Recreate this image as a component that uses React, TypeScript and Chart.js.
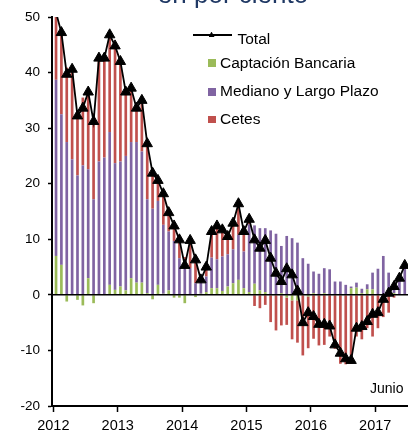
import React, { useEffect, useRef } from 'react';
import { Chart, registerables } from 'chart.js';

Chart.register(...registerables);

// Monthly data, Jan 2012 (index 0) to Jun 2017 (index 65)
const YEARS = ['2012', '2013', '2014', '2015', '2016', '2017'];
const LAST_MONTH_LABEL = 'Junio';

const TOTAL = [
  50.8, 47.2, 39.7, 40.6, 32.2, 33.6, 36.5, 31.2, 42.6, 42.6,
  46.8, 44.8, 42.0, 36.5, 37.2, 33.6, 35.0, 27.2, 21.9, 20.6,
  18.2, 14.8, 12.4, 9.9, 5.3, 9.8, 6.3, 2.7, 5.0, 11.4,
  12.4, 11.7, 10.5, 12.9, 16.4, 11.4, 13.6, 9.9, 8.4, 9.8,
  6.6, 3.9, 2.4, 4.7, 3.6, 0.7, -5.0, -3.2, -3.9, -5.3,
  -5.3, -5.6, -9.0, -10.5, -11.5, -11.8, -6.0, -5.7, -4.8, -3.5,
  -3.2, -0.8, 0.3, 1.5, 3.0, 5.3,
];

const CAPTACION = [
  7.0, 5.4, -1.2, 0, -0.9, -1.9, 3.0, -1.5, 0, 0,
  1.8, 0.9, 1.5, 0.8, 3.0, 2.2, 2.2, 0.3, -0.8, 1.8,
  0.2, 0.8, -0.5, -0.5, -1.5, 0, -0.4, 0.2, 0.5, 1.2,
  1.2, 0.7, 1.5, 2.1, 2.7, 1.2, 0.5, 2.0, 0.8, 0.5,
  0, 0, 0.3, -0.5, -1.0, -1.0, 0, -0.3, 0.3, 0,
  0.3, 0, 0, 0, 0, 1.2, 1.3, 0.3, 1.0, 1.0,
  0, 0, 0, 0.3, 0, 0,
];

const MEDIANO = [
  31.7, 27.1, 27.5, 24.4, 21.5, 23.3, 19.6, 17.2, 24.0, 24.7,
  27.5, 22.8, 22.5, 24.2, 24.5, 25.3, 23.6, 16.9, 15.5, 15.1,
  12.4, 10.6, 9.7, 6.6, 4.8, 4.8, 2.1, 2.5, 2.8, 5.5,
  5.2, 6.2, 5.8, 6.1, 8.1, 6.6, 12.2, 10.5, 11.2, 11.5,
  11.6, 11.0, 8.5, 10.6, 10.2, 9.4, 6.6, 5.6, 3.9, 3.8,
  4.5, 4.6, 2.4, 2.4, 1.8, 0.3, 0.9, 0.8, 0.9, 3.0,
  4.7, 7.0, 4.0, 1.0, 3.0, 5.0,
];

const CETES = [
  12.1, 14.7, 13.4, 16.2, 11.6, 12.2, 13.9, 15.5, 18.6, 17.9,
  17.5, 21.1, 18.0, 11.5, 9.7, 6.1, 9.2, 10.0, 7.2, 3.7,
  5.6, 3.4, 3.2, 3.8, 2.0, 5.0, 4.6, 0.0, 1.7, 4.7,
  6.0, 4.8, 3.2, 4.7, 5.6, 3.6, 0.9, -2.0, -2.4, -1.8,
  -4.9, -6.4, -5.5, -4.9, -7.0, -7.6, -10.9, -9.3, -7.9, -9.1,
  -9.0, -7.5, -9.7, -12.4, -12.5, -12.4, -7.5, -8.0, -6.0, -7.5,
  -6.0, -4.0, -3.2, -0.5, 0, 0.3,
];

const COLORS = {
  captacion: '#9BBB59',
  mediano: '#8064A2',
  cetes: '#C0504D',
  total: '#000000',
};

const FONT = "'Liberation Sans', Arial, sans-serif";

const toPoints = (arr: number[]) => arr.map((y, i) => ({ x: i, y }));

const zeroLinePlugin = {
  id: 'zeroLine',
  beforeDatasetDraw(chart: any, args: any) {
    if (args.meta.type !== 'line') return;
    const { ctx, chartArea, scales } = chart;
    const y = scales.y.getPixelForValue(0);
    ctx.save();
    ctx.strokeStyle = '#000';
    ctx.lineWidth = 1.5;
    ctx.beginPath();
    ctx.moveTo(chartArea.left, y);
    ctx.lineTo(chartArea.right, y);
    ctx.stroke();
    ctx.restore();
  },
};

export default function App() {
  const canvasRef = useRef<HTMLCanvasElement | null>(null);

  useEffect(() => {
    if (!canvasRef.current) return;
    const barCommon = {
      type: 'bar' as const,
      stack: 'bars',
      barPercentage: 0.5,
      categoryPercentage: 1,
      order: 1,
    };
    const chart = new Chart(canvasRef.current, {
      type: 'bar',
      data: {
        datasets: [
          { ...barCommon, label: 'Captación Bancaria', data: toPoints(CAPTACION), backgroundColor: COLORS.captacion },
          { ...barCommon, label: 'Mediano y Largo Plazo', data: toPoints(MEDIANO), backgroundColor: COLORS.mediano },
          { ...barCommon, label: 'Cetes', data: toPoints(CETES), backgroundColor: COLORS.cetes },
          {
            type: 'line',
            label: 'Total',
            stack: 'total',
            order: 0,
            data: toPoints(TOTAL),
            borderColor: COLORS.total,
            borderWidth: 1.8,
            tension: 0,
            pointStyle: 'triangle',
            pointRadius: 6,
            pointBackgroundColor: COLORS.total,
            pointBorderColor: COLORS.total,
            pointBorderWidth: 1,
          } as any,
        ],
      },
      options: {
        responsive: false,
        devicePixelRatio: 1,
        animation: false,
        layout: { padding: { top: 17, left: 0, right: 0, bottom: 14 } },
        plugins: {
          legend: { display: false },
          tooltip: { enabled: false },
          title: { display: false },
        },
        scales: {
          x: {
            type: 'linear',
            stacked: true,
            offset: false,
            min: -0.75,
            max: 68.4,
            afterFit: (scale: any) => {
              scale.height = 30;
            },
            afterBuildTicks: (scale: any) => {
              scale.ticks = YEARS.map((_, k) => ({ value: 12 * k - 0.5 }));
            },
            ticks: {
              autoSkip: false,
              maxRotation: 0,
              padding: 5,
              color: '#000',
              font: { family: FONT, size: 14.5 },
              callback: (_v: any, i: number) => YEARS[i],
            },
            grid: {
              display: true,
              drawOnChartArea: false,
              drawTicks: true,
              tickLength: 6,
              tickColor: '#000',
              tickWidth: 1.5,
              offset: false,
            },
            border: { display: true, color: '#000', width: 2 },
          },
          y: {
            stacked: true,
            min: -20,
            max: 50,
            afterFit: (scale: any) => {
              scale.width = 52;
            },
            ticks: {
              stepSize: 10,
              padding: 8,
              color: '#000',
              font: { family: FONT, size: 13.5 },
            },
            grid: {
              display: true,
              drawOnChartArea: false,
              drawTicks: true,
              tickLength: 4,
              tickColor: '#000',
              tickWidth: 1.5,
            },
            border: { display: true, color: '#000', width: 2 },
          },
        },
      } as any,
      plugins: [zeroLinePlugin],
    });
    return () => chart.destroy();
  }, []);

  const legendText: React.CSSProperties = {
    position: 'absolute',
    fontFamily: FONT,
    fontSize: '15.5px',
    lineHeight: '15.5px',
    color: '#000',
    whiteSpace: 'nowrap',
  };
  const square = (top: number, color: string): React.CSSProperties => ({
    position: 'absolute',
    left: 208,
    top,
    width: 8,
    height: 7.5,
    background: color,
  });

  return (
    <div
      style={{
        position: 'fixed',
        left: 0,
        top: 0,
        width: 408,
        height: 432,
        overflow: 'hidden',
        background: '#fff',
      }}
    >
      <canvas
        ref={canvasRef}
        width={430}
        height={450}
        style={{ position: 'absolute', left: 0, top: 0, width: 430, height: 450 }}
      />
      <div
        style={{
          position: 'absolute',
          left: 0,
          width: 466,
          top: -18.7,
          textAlign: 'center',
          fontFamily: FONT,
          fontSize: '26px',
          lineHeight: '26px',
          color: '#1F3864',
          whiteSpace: 'nowrap',
        }}
      >
        en por ciento
      </div>
      {/* Legend */}
      <div style={{ position: 'absolute', left: 193, top: 34.3, width: 39, height: 1.4, background: '#000' }} />
      <div
        style={{
          position: 'absolute',
          left: 208.5,
          top: 31.5,
          width: 6,
          height: 5.5,
          background: '#000',
          clipPath: 'polygon(50% 0, 100% 100%, 0 100%)',
        }}
      />
      <div style={{ ...legendText, left: 237.5, top: 31 }}>Total</div>
      <div style={square(59.3, COLORS.captacion)} />
      <div style={{ ...legendText, left: 220, top: 55.2 }}>Captación Bancaria</div>
      <div style={square(88.3, COLORS.mediano)} />
      <div style={{ ...legendText, left: 220, top: 83.4 }}>Mediano y Largo Plazo</div>
      <div style={square(115.7, COLORS.cetes)} />
      <div style={{ ...legendText, left: 220, top: 111.2 }}>Cetes</div>
      {/* Annotation for last observation */}
      <div
        style={{
          position: 'absolute',
          left: 370,
          top: 381,
          fontFamily: FONT,
          fontSize: '14px',
          lineHeight: '14px',
          color: '#000',
          whiteSpace: 'nowrap',
        }}
      >
        {LAST_MONTH_LABEL}
      </div>
    </div>
  );
}
